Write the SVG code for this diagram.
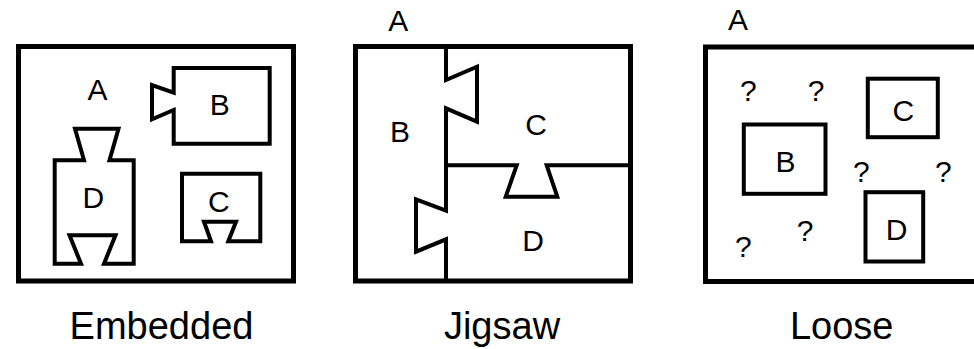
<svg xmlns="http://www.w3.org/2000/svg" width="974" height="349" viewBox="0 0 974 349">
<style>
.outer{fill:none;stroke:#000;stroke-width:5}
.inner{fill:none;stroke:#000;stroke-width:4;stroke-linejoin:miter}
text{font-family:"Liberation Sans",Arial,sans-serif;fill:#000;text-anchor:middle}
.lbl{font-size:30px}
.cap{font-size:38px}
</style>
<rect width="974" height="349" fill="#fff"/>
<g id="embedded">
  <g id="emb-A">
    <rect class="outer" x="18.5" y="46.5" width="275" height="234.5"/>
    <text class="lbl" x="97.5" y="100">A</text>
  </g>
  <g id="emb-B">
    <path class="inner" d="M173.7,68 H269.7 V143.7 H173.7 V110 L152,119.3 V85 L173.7,92.7 Z"/>
    <text class="lbl" x="219.7" y="115">B</text>
  </g>
  <g id="emb-D">
    <path class="inner" d="M54.7,160.3 H84 L75,128.7 H118.5 L109.5,160.3 H133.7 V263.7 H104 L115.5,235.3 H69.5 L81,263.7 H54.7 Z"/>
    <text class="lbl" x="93.3" y="208.3">D</text>
  </g>
  <g id="emb-C">
    <path class="inner" d="M182,173.7 H260.3 V241.3 H228.3 L236,221.7 H204 L211,241.3 H182 Z"/>
    <text class="lbl" x="218.8" y="211.7">C</text>
  </g>
  <text class="cap" x="161.5" y="339">Embedded</text>
</g>
<g id="jigsaw">
  <g id="jig-A">
    <rect class="outer" x="355.5" y="46.5" width="275" height="234.5"/>
    <text class="lbl" x="398.3" y="31">A</text>
  </g>
  <g id="jig-dividers">
    <path class="inner" d="M446,46.5 V80 L477,66.7 V121.7 L446,108.3 V210.7 L416,199.3 V251.7 L446,239.3 V281"/>
    <path class="inner" d="M446,165.3 H516.7 L505.7,196.7 H557.3 L546.7,165.3 H630.5"/>
  </g>
  <g id="jig-B"><text class="lbl" x="400" y="141.7">B</text></g>
  <g id="jig-C"><text class="lbl" x="536" y="135">C</text></g>
  <g id="jig-D"><text class="lbl" x="533" y="250.7">D</text></g>
  <text class="cap" x="502" y="339">Jigsaw</text>
</g>
<g id="loose">
  <g id="loose-A">
    <rect class="outer" x="705.5" y="47" width="275" height="234.5"/>
    <text class="lbl" x="738" y="30">A</text>
  </g>
  <g id="loose-B">
    <rect class="inner" x="743.8" y="124.5" width="81.7" height="69.3"/>
    <text class="lbl" x="785.5" y="171.5">B</text>
  </g>
  <g id="loose-C">
    <rect class="inner" x="867.8" y="78.7" width="70" height="58.5"/>
    <text class="lbl" x="903.3" y="121">C</text>
  </g>
  <g id="loose-D">
    <rect class="inner" x="865.5" y="192.2" width="57.7" height="69.3"/>
    <text class="lbl" x="896.7" y="240">D</text>
  </g>
  <g id="unknowns" class="lbl">
    <text class="lbl" x="748.3" y="100.7">?</text>
    <text class="lbl" x="816" y="100.7">?</text>
    <text class="lbl" x="861.3" y="181.7">?</text>
    <text class="lbl" x="943.3" y="181.7">?</text>
    <text class="lbl" x="805" y="240.7">?</text>
    <text class="lbl" x="743.3" y="256.7">?</text>
  </g>
  <text class="cap" x="841.7" y="339">Loose</text>
</g>
</svg>
